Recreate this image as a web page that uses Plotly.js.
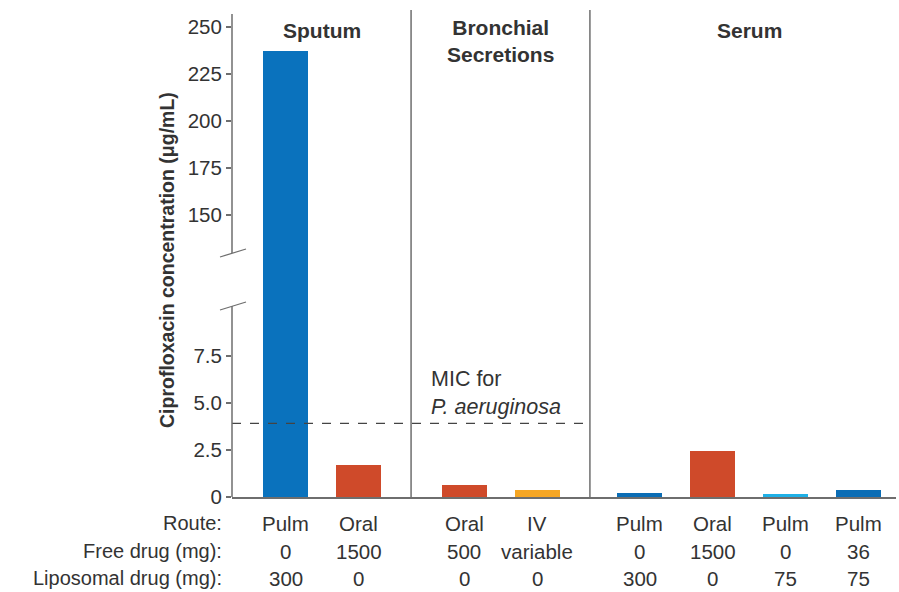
<!DOCTYPE html>
<html>
<head>
<meta charset="utf-8">
<script src="https://cdn.plot.ly/plotly-3.0.1.min.js"></script>
<style>html,body{margin:0;padding:0;background:#fff;}#chart{width:899px;height:592px;}</style>
</head>
<body>
<div id="chart"></div>
<script>
// ---- data ----
const positions = [0, 1, 2.45, 3.45, 4.85, 5.85, 6.85, 7.85];
const concentrations = [237, 1.69, 0.64, 0.35, 0.2, 2.46, 0.18, 0.36];
const barColors = ['#0a72bd', '#cf4a2a', '#cf4a2a', '#f6a623', '#0b6db5', '#cf4a2a', '#1fb0e6', '#0b6db5'];
const routes = ['Pulm', 'Oral', 'Oral', 'IV', 'Pulm', 'Oral', 'Pulm', 'Pulm'];
const freeDrug = ['0', '1500', '500', 'variable', '0', '1500', '0', '36'];
const liposomalDrug = ['300', '0', '0', '0', '300', '0', '75', '75'];
const rowLabels = ['Route:', 'Free drug (mg):', 'Liposomal drug (mg):'];
const panelTitles = ['Sputum', 'Bronchial<br>Secretions', 'Serum'];
const panelCenters = [0.5, 2.94, 6.36];
const separators = [1.72, 4.17];
const micValue = 3.92;
const micText = 'MIC for<br><i>P. aeruginosa</i>';
const lowerTicks = [0, 2.5, 5.0, 7.5];
const lowerTickText = ['0', '2.5', '5.0', '7.5'];
const upperTicks = [150, 175, 200, 225, 250];

// ---- layout helpers ----
const W = 899, H = 592, L = 232, R = 3, T = 10, B = 95;
const pw = W - L - R, ph = H - T - B;
const px = x => (x - L) / pw;
const py = y => (H - B - y) / ph;
const FONT = 'Liberation Sans, Arial, Helvetica, sans-serif';
const TXT = '#333333';
const GRAY = '#6e6e6e';
const SPLIT_PX = 280;
const split = py(SPLIT_PX);

const traces = [
  {type: 'bar', x: positions, y: concentrations, width: 0.625, xaxis: 'x', yaxis: 'y',
   marker: {color: barColors, line: {width: 0}}, hoverinfo: 'y', showlegend: false},
  {type: 'bar', x: positions, y: concentrations, width: 0.625, xaxis: 'x', yaxis: 'y2',
   marker: {color: barColors, line: {width: 0}}, hoverinfo: 'y', showlegend: false}
];

const shapes = [];
separators.forEach(s => shapes.push({type: 'line', xref: 'x', yref: 'paper', x0: s, x1: s, y0: 0, y1: 1,
  line: {color: GRAY, width: 1.5}}));
shapes.push({type: 'line', xref: 'paper', yref: 'y', x0: 0, x1: px(590), y0: micValue, y1: micValue,
  line: {color: '#444', width: 1.2, dash: 'dash'}});
shapes.push({type: 'line', xref: 'paper', yref: 'paper', x0: 0, x1: 0, y0: py(14), y1: py(253), line: {color: GRAY, width: 1.5}});
shapes.push({type: 'line', xref: 'paper', yref: 'paper', x0: 0, x1: 0, y0: py(306), y1: 0, line: {color: GRAY, width: 1.5}});
shapes.push({type: 'line', xref: 'paper', yref: 'paper', x0: px(220), x1: px(246), y0: py(257), y1: py(249), line: {color: GRAY, width: 1.3}});
shapes.push({type: 'line', xref: 'paper', yref: 'paper', x0: px(220), x1: px(246), y0: py(310), y1: py(302), line: {color: GRAY, width: 1.3}});

const annotations = [];
panelTitles.forEach((t, i) => annotations.push({
  text: '<b>' + t + '</b>', xref: 'x', yref: 'paper', x: panelCenters[i], y: i === 1 ? py(41) : py(30),
  xanchor: 'center', yanchor: 'middle', showarrow: false, font: {family: FONT, size: 21, color: TXT}
}));
annotations.push({text: micText, xref: 'paper', yref: 'paper', x: px(429), y: py(393),
  xanchor: 'left', yanchor: 'middle', align: 'left', showarrow: false, font: {family: FONT, size: 21.5, color: TXT}});
annotations.push({text: '<b>Ciprofloxacin concentration (μg/mL)</b>', xref: 'paper', yref: 'paper', x: px(167), y: py(260),
  textangle: -90, xanchor: 'center', yanchor: 'middle', showarrow: false, font: {family: FONT, size: 19.5, color: TXT}});
const rowY = [523, 551, 578];
const rows = [routes, freeDrug, liposomalDrug];
rowLabels.forEach((lab, r) => {
  annotations.push({text: lab, xref: 'paper', yref: 'paper', x: px(224), y: py(rowY[r]),
    xanchor: 'right', yanchor: 'middle', showarrow: false, font: {family: FONT, size: 20, color: TXT}});
  rows[r].forEach((v, i) => annotations.push({text: v, xref: 'x', yref: 'paper', x: positions[i], y: py(rowY[r]),
    xanchor: 'center', yanchor: 'middle', showarrow: false, font: {family: FONT, size: 20.5, color: TXT}}));
});

const layout = {
  width: W, height: H, margin: {l: L, r: R, t: T, b: B},
  paper_bgcolor: '#fff', plot_bgcolor: '#fff', bargap: 0, showlegend: false,
  font: {family: FONT, color: TXT},
  xaxis: {range: [-0.733, (pw / 73) - 0.733], anchor: 'y', showgrid: false, zeroline: false,
    showline: true, linecolor: GRAY, linewidth: 1.5, showticklabels: false, ticks: ''},
  yaxis: {domain: [0, split], range: [0, (H - B - SPLIT_PX) / 18.8], anchor: 'x', showgrid: false, zeroline: false,
    showline: false, tickmode: 'array', tickvals: lowerTicks, ticktext: lowerTickText, ticks: 'outside', ticklen: 5,
    tickwidth: 1.2, tickcolor: GRAY, tickfont: {family: FONT, size: 20.5, color: TXT}},
  yaxis2: {domain: [split, 1], range: [250 - (SPLIT_PX - 27) / 1.88, 250 + (27 - T) / 1.88], anchor: 'x', showgrid: false, zeroline: false,
    showline: false, tickmode: 'array', tickvals: upperTicks, ticks: 'outside', ticklen: 5,
    tickwidth: 1.2, tickcolor: GRAY, tickfont: {family: FONT, size: 20.5, color: TXT}},
  shapes: shapes, annotations: annotations
};

Plotly.newPlot('chart', traces, layout, {staticPlot: true});
</script>
</body>
</html>
